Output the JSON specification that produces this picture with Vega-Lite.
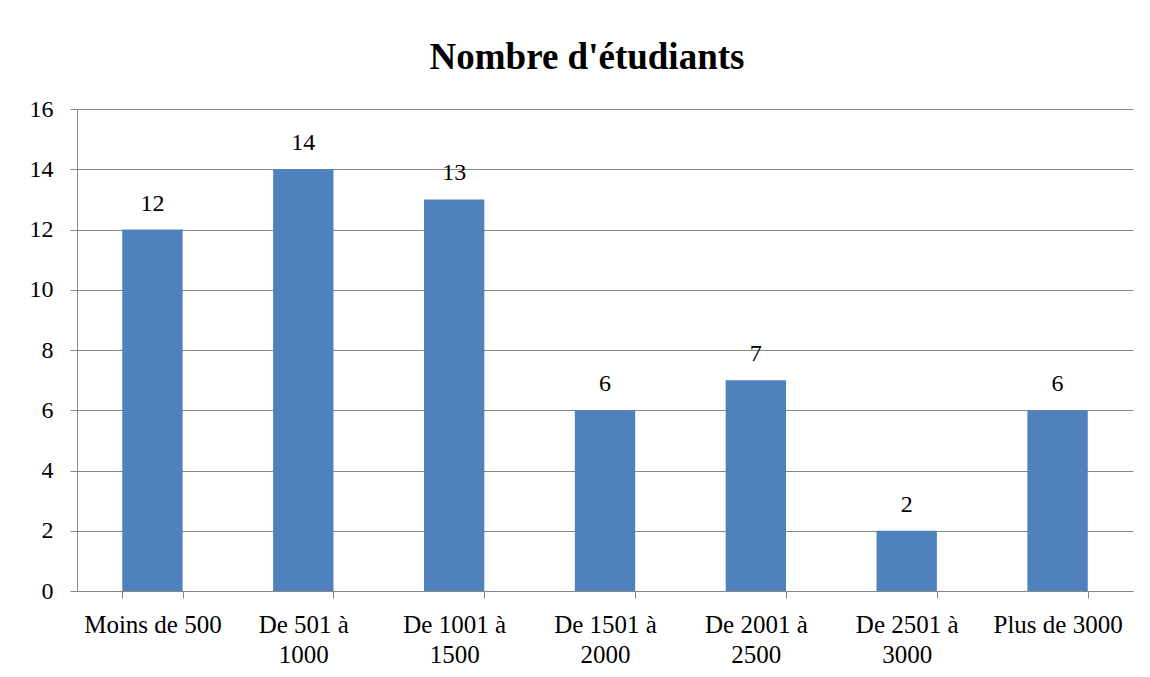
{
  "$schema": "https://vega.github.io/schema/vega-lite/v6.json",
  "autosize": "none",
  "width": 1056,
  "height": 482,
  "padding": {"left": 77, "top": 109, "right": 17, "bottom": 86},
  "background": "white",
  "title": {
    "text": "Nombre d'étudiants",
    "font": "Liberation Serif",
    "fontSize": 37,
    "fontWeight": "bold",
    "color": "black",
    "anchor": "middle",
    "baseline": "bottom",
    "offset": -17,
    "dx": -18
  },
  "config": {
    "view": {"stroke": null},
    "font": "Liberation Serif"
  },
  "data": {
    "values": [
      {"cat": "Moins de 500", "n": 12},
      {"cat": "De 501 à 1000", "n": 14},
      {"cat": "De 1001 à 1500", "n": 13},
      {"cat": "De 1501 à 2000", "n": 6},
      {"cat": "De 2001 à 2500", "n": 7},
      {"cat": "De 2501 à 3000", "n": 2},
      {"cat": "Plus de 3000", "n": 6}
    ]
  },
  "encoding": {
    "x": {
      "field": "cat",
      "type": "nominal",
      "sort": null,
      "scale": {"paddingInner": 0.6, "paddingOuter": 0.3},
      "axis": {
        "title": null,
        "labelAngle": 0,
        "labelFont": "Liberation Serif",
        "labelFontSize": 25,
        "labelColor": "black",
        "labelLineHeight": 30,
        "labelPadding": 14,
        "labelBaseline": "top",
        "labelExpr": "isString(datum.value) && indexof(datum.value, 'à') > 0 ? [slice(datum.value, 0, indexof(datum.value, 'à') + 1), slice(datum.value, indexof(datum.value, 'à') + 2)] : datum.label",
        "tickBand": "extent",
        "tickSize": 7,
        "tickColor": "#868686",
        "domainColor": "#868686",
        "grid": false
      }
    },
    "y": {
      "field": "n",
      "type": "quantitative",
      "scale": {"domain": [0, 16], "nice": false},
      "axis": {
        "title": null,
        "values": [0, 2, 4, 6, 8, 10, 12, 14, 16],
        "labelFont": "Liberation Serif",
        "labelFontSize": 24,
        "labelColor": "black",
        "labelPadding": 17,
        "tickSize": 7,
        "tickColor": "#868686",
        "domainColor": "#868686",
        "gridColor": "#868686",
        "gridWidth": 1
      }
    }
  },
  "layer": [
    {"mark": {"type": "bar", "color": "#4F81BD"}},
    {
      "mark": {"type": "text", "baseline": "alphabetic", "dy": -19, "font": "Liberation Serif", "fontSize": 24, "color": "black"},
      "encoding": {"text": {"field": "n", "type": "quantitative"}}
    }
  ]
}
